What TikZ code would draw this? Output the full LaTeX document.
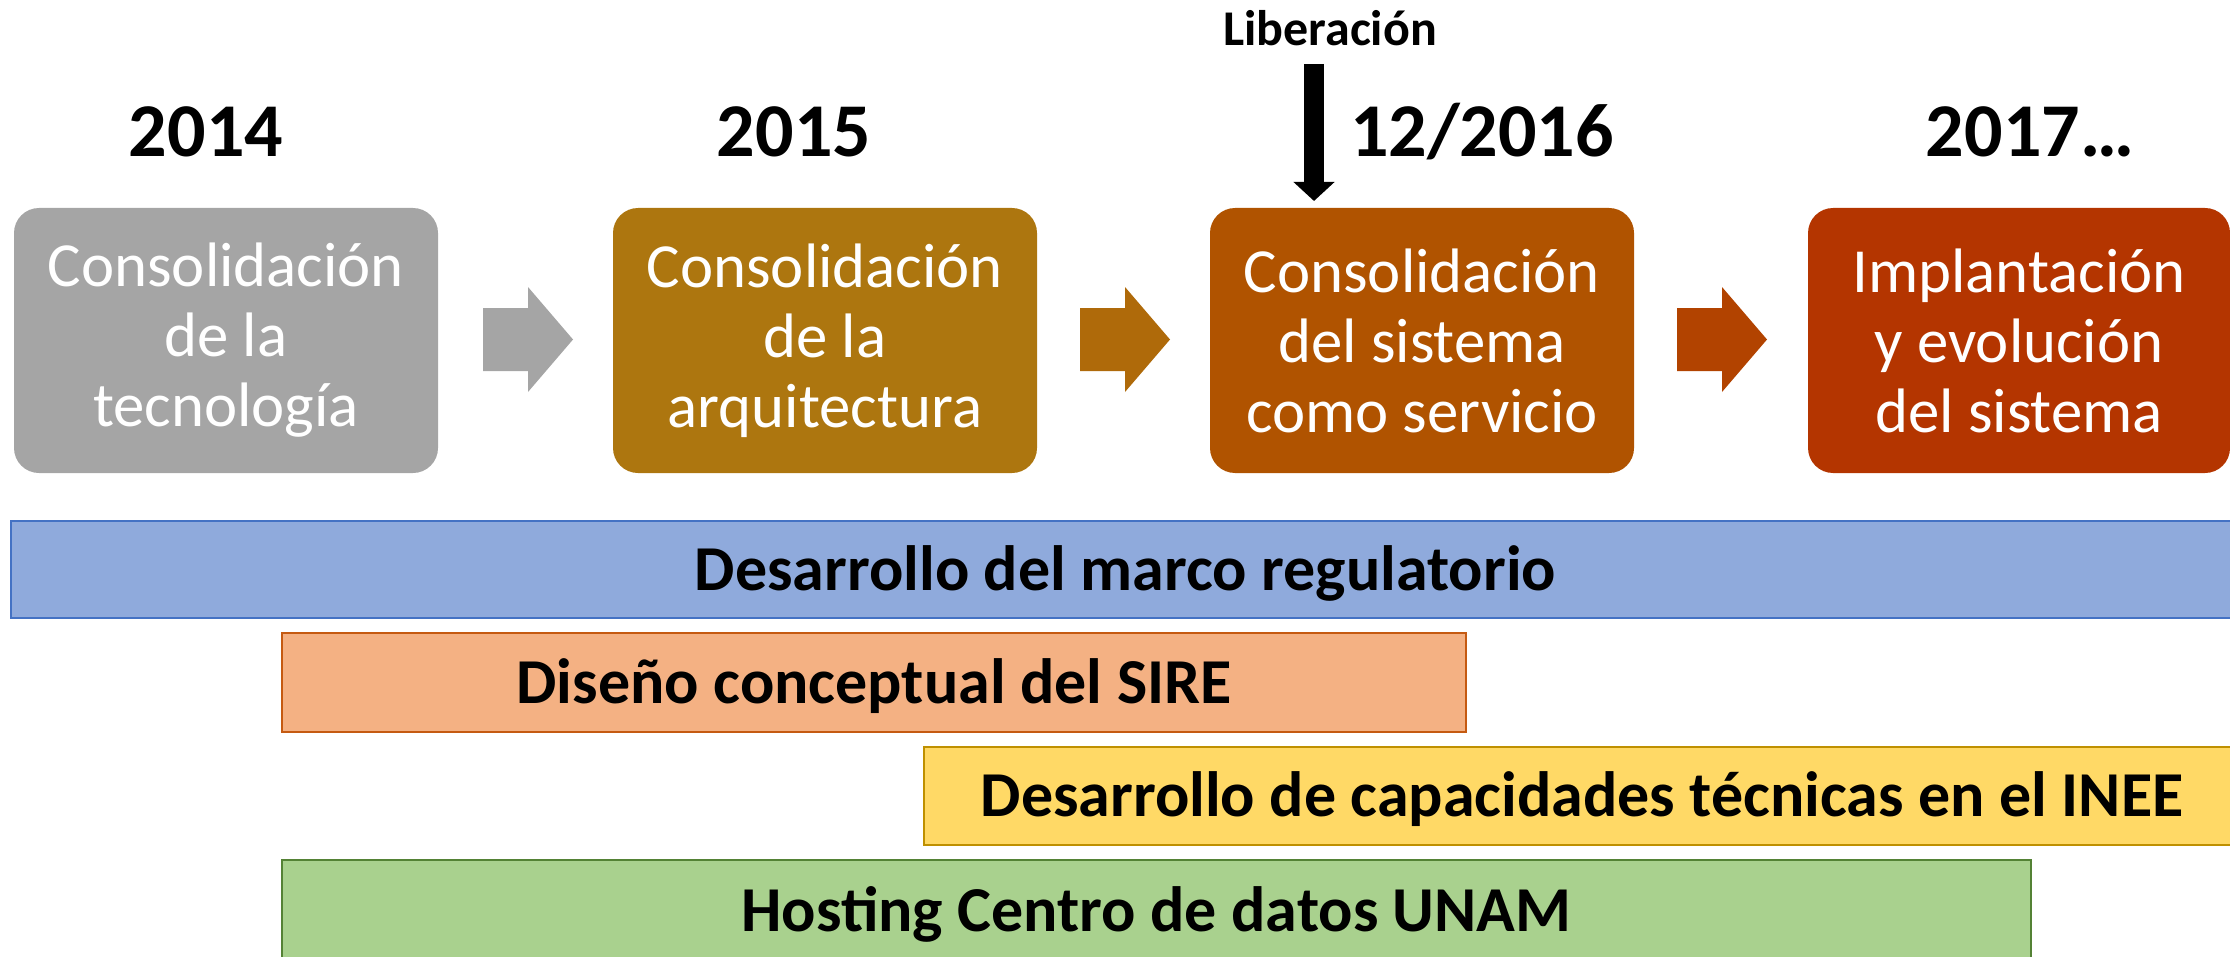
\documentclass[tikz,border=0pt]{standalone}
\usepackage{fontspec}
\setmainfont{Carlito}
\usetikzlibrary{arrows.meta}
\definecolor{cgray}{HTML}{A5A5A5}
\definecolor{cgold}{HTML}{AD760F}
\definecolor{corange}{HTML}{B05300}
\definecolor{cred}{HTML}{B43500}
\definecolor{carrA}{HTML}{AF6A0A}
\definecolor{carrB}{HTML}{B24300}
\definecolor{bluef}{HTML}{8FAADC}
\definecolor{bluel}{HTML}{4472C4}
\definecolor{salf}{HTML}{F4B183}
\definecolor{sall}{HTML}{C55A11}
\definecolor{yelf}{HTML}{FFD966}
\definecolor{yell}{HTML}{BF9000}
\definecolor{grnf}{HTML}{A9D18E}
\definecolor{grnl}{HTML}{548235}
\begin{document}
\begin{tikzpicture}[x=0.5pt,y=-0.5pt,
  phase/.style={rounded corners=12.5pt, minimum width=212pt, minimum height=132.5pt,
    inner sep=0pt, text=white, align=center, font=\fontsize{31.4}{35}\selectfont},
  year/.style={anchor=base, inner sep=0pt, font=\fontsize{38}{40}\selectfont\bfseries},
  bar/.style={draw, line width=1pt, inner sep=0pt, text height=20.6pt, text depth=0pt,
    font=\fontsize{32}{36}\selectfont\bfseries}]
\useasboundingbox (0,0) rectangle (2230,957);

% phase boxes
\node[phase, fill=cgray]   (b1) at (226,340.5)  {Consolidación\\de la\\tecnología};
\node[phase, fill=cgold]   (b2) at (825,340.5)  {Consolidación\\de la\\arquitectura};
\node[phase, fill=corange] (b3) at (1422,340.5) {Consolidación\\del sistema\\como servicio};
\node[phase, fill=cred, minimum width=211pt] (b4) at (2019,340.5) {Implantación\\y evolución\\del sistema};

% block arrows between phases
\fill[cgray] (483,308) -- (528,308) -- (528,287) -- (573,339.5) -- (528,392) -- (528,371) -- (483,371) -- cycle;
\fill[carrA] (1080,308) -- (1125,308) -- (1125,287) -- (1170,339.5) -- (1125,392) -- (1125,371) -- (1080,371) -- cycle;
\fill[carrB] (1677,308) -- (1722,308) -- (1722,287) -- (1767,339.5) -- (1722,392) -- (1722,371) -- (1677,371) -- cycle;

% years
\node[year] (y1) at (206,157)  {2014};
\node[year] (y2) at (794,157)  {2015};
\node[year] (y3) at (1482,157) {12/2016};
\node[year] (y4) at (2030,157) {2017…};

% release marker
\node[anchor=base, inner sep=0pt, font=\fontsize{25}{28}\selectfont\bfseries] (lib) at (1330,46) {Liberación};
\coordinate (libstart) at (1314,64);
\coordinate (libtip) at (1314,201);
\draw[line width=10pt, -{Triangle[width=20pt,length=9.5pt]}] (libstart) -- (libtip);

% bars
\node[bar, draw=bluel, fill=bluef, minimum width=1114.5pt, minimum height=48.5pt] (r1) at (1125.5,569.5) {Desarrollo del marco regulatorio};
\node[bar, draw=sall, fill=salf, minimum width=592pt, minimum height=49.5pt] (r2) at (874,682.5) {Diseño conceptual del SIRE};
\node[bar, draw=yell, fill=yelf, minimum width=658pt, minimum height=49pt] (r3) at (1582,796) {Desarrollo de capacidades técnicas en el INEE};
\node[bar, draw=grnl, fill=grnf, minimum width=874.5pt, minimum height=51pt] (r4) at (1156.5,911) {Hosting Centro de datos UNAM};
\end{tikzpicture}
\end{document}
